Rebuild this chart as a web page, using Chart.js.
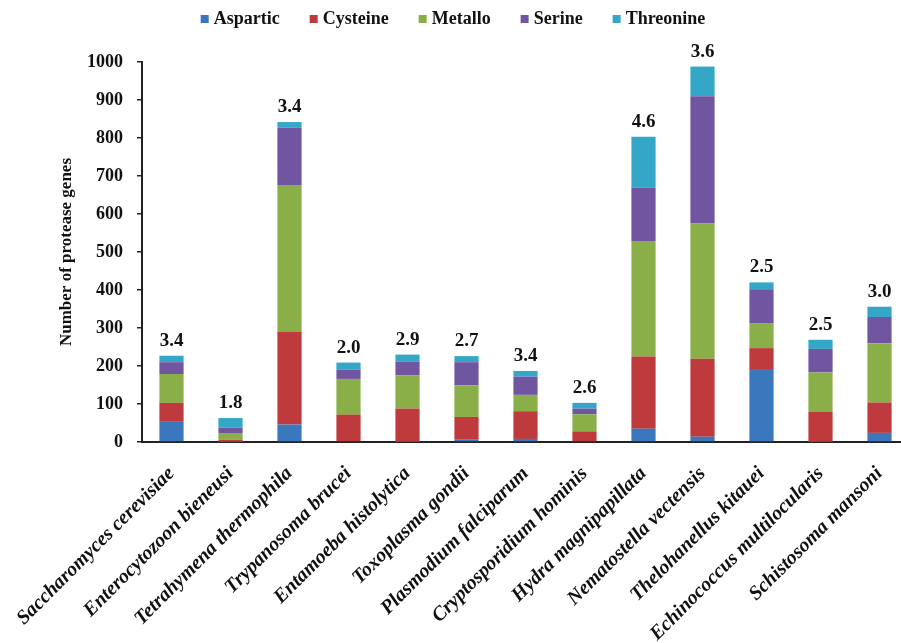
<!DOCTYPE html>
<html>
<head>
<meta charset="utf-8">
<title>Protease genes</title>
<script src="https://cdn.jsdelivr.net/npm/chart.js@4.4.0/dist/chart.umd.min.js"></script>
<style>
  html, body { margin: 0; padding: 0; background: #fff; overflow: hidden; }
  #chart { display: block; }
</style>
</head>
<body>
<canvas id="chart" width="912" height="643"></canvas>
<script>
// species on the x axis
const species = [
  'Saccharomyces cerevisiae', 'Enterocytozoon bieneusi', 'Tetrahymena thermophila',
  'Trypanosoma brucei', 'Entamoeba histolytica', 'Toxoplasma gondii',
  'Plasmodium falciparum', 'Cryptosporidium hominis', 'Hydra magnipapillata',
  'Nematostella vectensis', 'Thelohanellus kitauei', 'Echinococcus multilocularis',
  'Schistosoma mansoni'
];

// gene counts per protease family
const aspartic  = [55, 1, 46, 0, 1, 6, 8, 0, 35, 14, 192, 1, 24];
const cysteine  = [48, 5, 245, 72, 87, 60, 73, 28, 190, 205, 55, 78, 80];
const metallo   = [76, 16, 385, 94, 87, 83, 43, 45, 304, 356, 66, 104, 156];
const serine    = [31, 16, 151, 24, 37, 61, 48, 15, 140, 335, 89, 62, 69];
const threonine = [17, 25, 15, 19, 18, 16, 15, 15, 134, 78, 18, 24, 27];

// numbers printed above each bar
const ratios = ['3.4', '1.8', '3.4', '2.0', '2.9', '2.7', '3.4', '2.6', '4.6', '3.6', '2.5', '2.5', '3.0'];

const yTicks = { min: 0, max: 1000, step: 100 };

const serif = '"Liberation Serif", "Times New Roman", serif';
const ink = '#111';

// legend row on top, drawn by hand so the spacing matches
const topLegend = {
  id: 'topLegend',
  afterDraw(chart) {
    const ctx = chart.ctx;
    ctx.save();
    ctx.font = 'bold 18px ' + serif;
    const box = 8, gapText = 5, gapItem = 30, baseline = 24;
    const items = chart.data.datasets.map(ds => ({
      label: ds.label, color: ds.backgroundColor, w: ctx.measureText(ds.label).width
    }));
    const total = items.reduce((s, it) => s + box + gapText + it.w, 0) + gapItem * (items.length - 1);
    let x = 453 - total / 2;
    items.forEach(it => {
      ctx.fillStyle = it.color;
      ctx.fillRect(x, baseline - 9, box, box);
      x += box + gapText;
      ctx.fillStyle = ink;
      ctx.textBaseline = 'alphabetic';
      ctx.fillText(it.label, x, baseline);
      x += it.w + gapItem;
    });
    ctx.restore();
  }
};

// ratio labels above the stacks
const ratioLabels = {
  id: 'ratioLabels',
  afterDatasetsDraw(chart) {
    const ctx = chart.ctx;
    const meta = chart.getDatasetMeta(chart.data.datasets.length - 1);
    ctx.save();
    ctx.font = 'bold 19px ' + serif;
    ctx.textAlign = 'center';
    ctx.textBaseline = 'alphabetic';
    ctx.fillStyle = ink;
    meta.data.forEach((bar, i) => {
      ctx.fillText(ratios[i], bar.x, bar.y - 10);
    });
    ctx.restore();
  }
};

const ctx = document.getElementById('chart').getContext('2d');

new Chart(ctx, {
  type: 'bar',
  data: {
    labels: species,
    datasets: [
      { label: 'Aspartic',  data: aspartic,  backgroundColor: '#3A77BD' },
      { label: 'Cysteine',  data: cysteine,  backgroundColor: '#BE3A3C' },
      { label: 'Metallo',   data: metallo,   backgroundColor: '#8AAE48' },
      { label: 'Serine',    data: serine,    backgroundColor: '#7055A0' },
      { label: 'Threonine', data: threonine, backgroundColor: '#34A7C9' }
    ]
  },
  options: {
    responsive: false,
    animation: false,
    barPercentage: 0.41,
    categoryPercentage: 1.0,
    layout: { padding: { top: 62, left: 56, right: 3, bottom: 0 } },
    plugins: {
      legend: { display: false },
      tooltip: { enabled: false }
    },
    scales: {
      x: {
        stacked: true,
        offset: true,
        grid: { display: false },
        border: { display: true, color: '#222', width: 2 },
        ticks: {
          autoSkip: false,
          minRotation: 45,
          maxRotation: 45,
          padding: 12,
          color: ink,
          font: { family: serif, size: 20, weight: 'bold', style: 'italic' }
        },
        afterFit: s => { s.height = 201; }
      },
      y: {
        stacked: true,
        min: yTicks.min,
        max: yTicks.max,
        ticks: {
          stepSize: yTicks.step,
          padding: 14,
          color: ink,
          font: { family: serif, size: 18, weight: 'bold' },
          callback: v => String(v)
        },
        grid: { drawOnChartArea: false, drawTicks: true, tickLength: 5, color: '#222', lineWidth: 1.5 },
        border: { display: true, color: '#222', width: 2 },
        title: {
          display: true,
          text: 'Number of protease genes',
          color: ink,
          padding: 0,
          font: { family: serif, size: 17, weight: 'bold' }
        },
        afterFit: s => { s.width = 86; }
      }
    }
  },
  plugins: [topLegend, ratioLabels]
});
</script>
</body>
</html>
